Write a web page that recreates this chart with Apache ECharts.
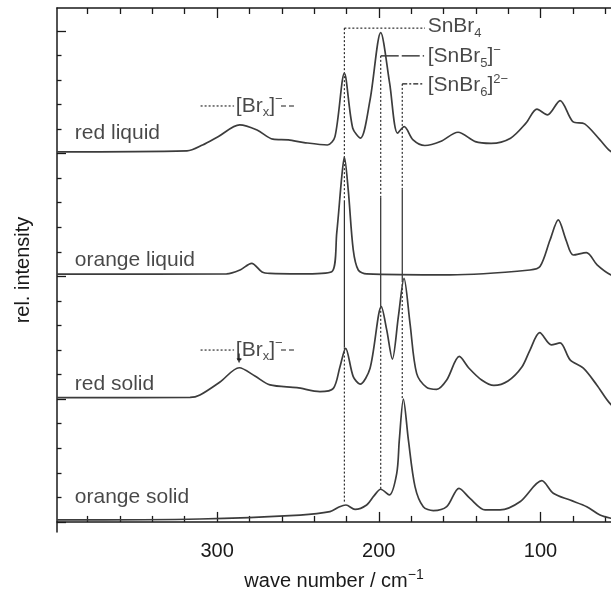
<!DOCTYPE html>
<html>
<head>
<meta charset="utf-8">
<script src="https://cdn.jsdelivr.net/npm/echarts@6/dist/echarts.min.js"></script>
<style>
  html, body { margin: 0; padding: 0; background: #fff; }
  #chart { width: 611px; height: 601px; }
</style>
</head>
<body>
<div id="chart"></div>
<script>
// spectra: wave number (cm-1) and intensity above each trace's own baseline
const redLiquidWn = [399, 318.6, 309.0, 299.4, 286.0, 275.3, 265.5, 255.9, 246.2, 231.8, 227.1, 221.3, 216.1, 211.3, 205.4, 198.8, 193.3, 188.4, 184.3, 178.8, 171.5, 161.9, 151.0, 140.3, 130.6, 118.5, 109.0, 102.2, 95.7, 87.9, 80.0, 72.7, 63.2, 56.4, 50];
const redLiquidI = [0.07, 0.11, 0.35, 0.69, 1.17, 0.96, 0.59, 0.56, 0.45, 0.35, 0.69, 3.27, 1.03, 0.63, 2.19, 4.93, 2.87, 0.83, 1.10, 0.56, 0.33, 0.49, 0.87, 0.49, 0.42, 0.63, 1.24, 1.81, 1.58, 2.16, 1.30, 1.21, 0.56, 0.08, 0.0];

const orangeLiquidWn = [399, 294.1, 285.8, 278.6, 272.2, 267.3, 248.7, 229.1, 226.0, 222.9, 221.3, 218.9, 215.8, 212.7, 207.5, 156.0, 106.5, 100.3, 94.1, 89.0, 84.2, 79.7, 71.6, 65.0, 56.4, 50];
const orangeLiquidI = [0.09, 0.10, 0.26, 0.53, 0.18, 0.12, 0.10, 0.19, 1.77, 4.06, 4.86, 3.52, 1.08, 0.26, 0.10, 0.06, 0.26, 0.40, 1.48, 2.30, 1.48, 0.87, 0.97, 0.47, 0.06, 0.0];

const redSolidWn = [399, 316.7, 310.6, 298.2, 286.3, 276.6, 267.3, 250.6, 236.4, 228.1, 224.0, 220.5, 215.8, 211.6, 205.4, 198.4, 195.1, 191.6, 187.9, 184.4, 180.7, 176.6, 170.4, 164.2, 158.0, 150.2, 144.2, 136.4, 128.8, 120.1, 111.4, 106.5, 100.5, 93.3, 87.9, 81.7, 73.5, 65.2, 56.4, 50];
const redSolidI = [0.06, 0.07, 0.17, 0.70, 1.28, 0.94, 0.58, 0.47, 0.31, 0.44, 1.32, 2.07, 0.92, 0.61, 1.26, 3.77, 2.82, 1.63, 3.36, 4.92, 3.09, 1.05, 0.48, 0.40, 0.78, 1.74, 1.26, 0.78, 0.56, 0.74, 1.32, 2.00, 2.71, 2.21, 2.29, 1.60, 1.26, 0.58, -0.22, -0.4];

const orangeSolidWn = [399, 310.6, 248.7, 230.2, 224.6, 220.3, 214.7, 207.5, 203.0, 198.8, 193.5, 188.9, 187.3, 184.8, 181.7, 177.6, 172.5, 166.3, 158.0, 150.4, 143.6, 134.3, 125.0, 112.7, 99.2, 92.1, 81.7, 71.4, 63.2, 56.4, 50];
const orangeSolidI = [0.08, 0.12, 0.28, 0.42, 0.61, 0.69, 0.51, 0.69, 1.06, 1.33, 1.10, 1.98, 3.34, 5.00, 3.34, 1.44, 0.62, 0.46, 0.62, 1.37, 0.96, 0.49, 0.49, 0.82, 1.68, 1.17, 0.89, 0.62, 0.28, 0.15, 0.1];

const traceOffsets = [15, 10, 5, 0];
const traceNames = ['red liquid', 'orange liquid', 'red solid', 'orange solid'];

// tick values
const xMinorTicks = [60, 80, 120, 140, 160, 180, 220, 240, 260, 280, 320, 340, 360, 380];
const xMajorTicks = [100, 200, 300];
const yMinorTicks = [1, 2, 3, 4, 6, 7, 8, 9, 11, 12, 13, 14, 16, 17, 18, 19];
const yMajorTicks = [0, 5, 10, 15, 20];

// assignment lines: horizontal lead to the label, then vertical pieces (dotted / solid / dotted)
const snbr4Wn = 221.3, snbr4Lead = [20.11, 171.4], snbr4Cuts = [20.11, 13.1, 7.1, 0.77];
const snbr5Wn = 198.8, snbr5Lead = [18.98, 172.0], snbr5Cuts = [18.98, 13.19, 8.76, 1.34];
const snbr6Wn = 185.5, snbr6Lead = [17.84, 172.0], snbr6Cuts = [17.84, 13.52, 9.85, 4.97];
const brxDotWn = [310.2, 289.5];
const brxDashWn = [260.5, 252.4];
const brxY = [16.94, 7.00];

// text labels
const noteWn = [169.8, 169.8, 169.8, 288.4, 288.4, 388.0, 388.0, 388.0, 388.0];
const noteY = [20.17, 18.95, 17.77, 16.94, 7.00, 15.84, 10.67, 5.61, 1.02];
const noteText = ['SnBr{sub|4}', '[SnBr{sub|5}]{sup|−}', '[SnBr{sub|6}]{sup|2−}', '[Br{sub|x}]{sup|−}', '[Br{sub|x}]{sup|−}',
    'red liquid', 'orange liquid', 'red solid', 'orange solid'];

const ink = '#1a1a1a';
const traceColor = '#3c3c3c';
const fontFam = '"Liberation Sans", Arial, sans-serif';
const richStyle = {
    sub: {fontSize: 13, verticalAlign: 'bottom', lineHeight: 26, color: ink, fontFamily: fontFam},
    sup: {fontSize: 13, verticalAlign: 'top', lineHeight: 26, color: ink, fontFamily: fontFam}
};

const myChart = echarts.init(document.getElementById('chart'), null, {renderer: 'canvas'});

function pairs(xs, ys, off) {
    return xs.map(function (x, i) {
        return [x, ys[i] + (off || 0)];
    });
}

const spectra = [
    [redLiquidWn, redLiquidI],
    [orangeLiquidWn, orangeLiquidI],
    [redSolidWn, redSolidI],
    [orangeSolidWn, orangeSolidI]
];

const series = spectra.map(function (s, i) {
    return {
        name: traceNames[i],
        type: 'line',
        data: pairs(s[0], s[1], traceOffsets[i]),
        smooth: 0.3,
        showSymbol: false,
        lineStyle: {color: traceColor, width: 1.7},
        z: 3
    };
});

function guide(xs, ys, dash) {
    return {
        type: 'line',
        data: pairs(xs, ys),
        showSymbol: false,
        silent: true,
        lineStyle: {color: ink, width: 1.1, type: dash},
        z: 2
    };
}

function assignment(wn, lead, cuts, leadDash) {
    series.push(guide([wn, lead[1]], [lead[0], lead[0]], leadDash));
    series.push(guide([wn, wn], [cuts[0], cuts[1]], [2, 2]));
    series.push(guide([wn, wn], [cuts[1], cuts[2]], 'solid'));
    series.push(guide([wn, wn], [cuts[2], cuts[3]], [2, 2]));
}

assignment(snbr4Wn, snbr4Lead, snbr4Cuts, [2, 2]);
assignment(snbr5Wn, snbr5Lead, snbr5Cuts, [18, 3]);
assignment(snbr6Wn, snbr6Lead, snbr6Cuts, [5, 2, 2, 2]);
brxY.forEach(function (y) {
    series.push(guide(brxDotWn, [y, y], [2, 2]));
    series.push(guide(brxDashWn, [y, y], [5, 3]));
});
// small arrow under the solid [Brx] label
series.push(guide([286.4, 286.4], [6.86, 6.58], 'solid'));
series.push({
    type: 'scatter',
    data: [[286.4, 6.56]],
    symbol: 'triangle',
    symbolRotate: 180,
    symbolSize: [5, 5],
    itemStyle: {color: ink},
    silent: true,
    z: 2
});

series.push({
    type: 'scatter',
    symbolSize: 0,
    silent: true,
    data: noteWn.map(function (x, i) {
        return [x, noteY[i], noteText[i]];
    }),
    label: {
        show: true,
        position: 'right',
        distance: 0,
        color: ink,
        fontSize: 21,
        lineHeight: 26,
        fontFamily: fontFam,
        formatter: function (p) {
            return p.value[2];
        },
        rich: richStyle
    },
    z: 4
});

function xAxisDef(pos, ticks, len, showLine, showLabels) {
    return {
        type: 'value',
        position: pos,
        inverse: true,
        min: 56.4,
        max: 399,
        axisLine: {show: showLine, lineStyle: {color: ink, width: 1.5}},
        axisTick: {show: true, inside: true, length: len, customValues: ticks, lineStyle: {color: ink, width: 1.3}},
        axisLabel: {show: showLabels, customValues: xMajorTicks, margin: 9, color: ink, fontSize: 20, fontFamily: fontFam},
        splitLine: {show: false}
    };
}

function yAxisDef(ticks, len, showLine, named) {
    return {
        type: 'value',
        position: 'left',
        min: -0.41,
        max: 20.93,
        name: named ? 'rel. intensity' : '',
        nameLocation: 'middle',
        nameGap: 24,
        nameTextStyle: {color: ink, fontSize: 20, fontFamily: fontFam},
        axisLine: {show: showLine, lineStyle: {color: ink, width: 1.5}},
        axisTick: {show: true, inside: true, length: len, customValues: ticks, lineStyle: {color: ink, width: 1.3}},
        axisLabel: {show: false},
        splitLine: {show: false}
    };
}

const xBottom = xAxisDef('bottom', xMinorTicks, 6, true, true);
xBottom.name = 'wave number / cm{sup|−1}';
xBottom.nameLocation = 'middle';
xBottom.nameGap = 36;
xBottom.nameTextStyle = {color: ink, fontSize: 20, fontFamily: fontFam, rich: {
    sup: {fontSize: 14, verticalAlign: 'top', lineHeight: 26, color: ink, fontFamily: fontFam}
}, lineHeight: 26};

const option = {
    animation: false,
    backgroundColor: '#fff',
    grid: {left: 57, right: 0, top: 8, bottom: 69, containLabel: false},
    xAxis: [
        xBottom,
        xAxisDef('bottom', xMajorTicks, 10, false, false),
        xAxisDef('top', xMinorTicks, 6, true, false),
        xAxisDef('top', xMajorTicks, 10, false, false)
    ],
    yAxis: [
        yAxisDef(yMinorTicks, 4.5, true, true),
        yAxisDef(yMajorTicks, 9, false, false)
    ],
    series: series
};

myChart.setOption(option);
</script>
</body>
</html>
